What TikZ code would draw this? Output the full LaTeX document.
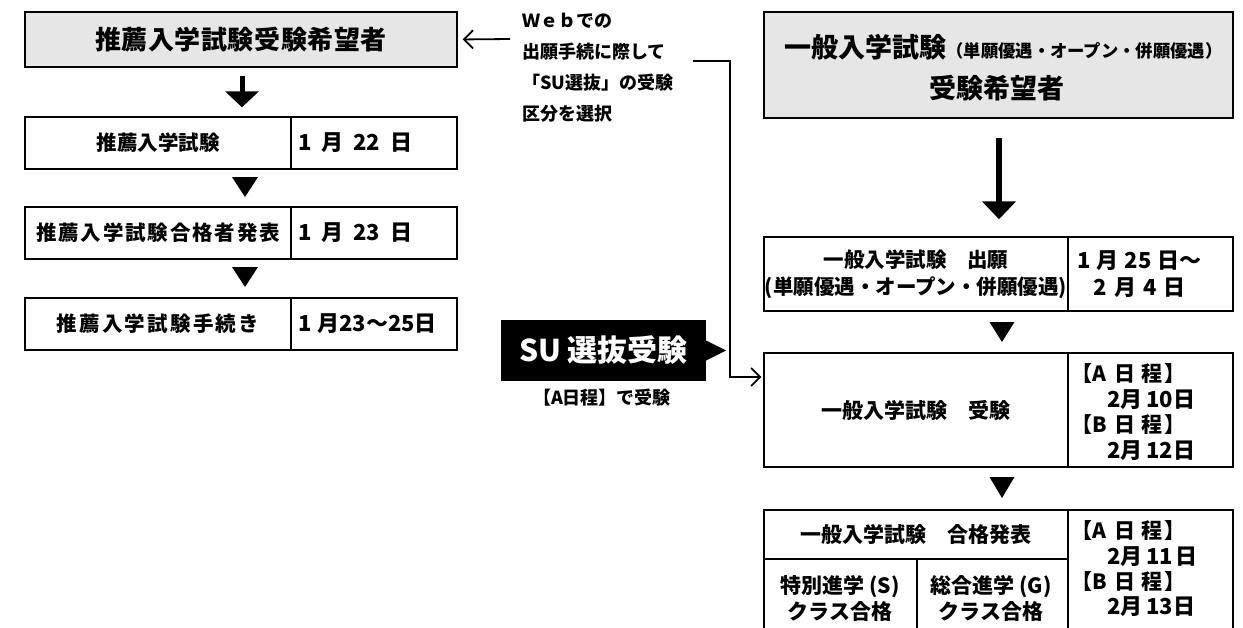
\documentclass[tikz,border=0pt]{standalone}
\usepackage{fontspec}
\setmainfont{Noto Sans CJK JP}
\usetikzlibrary{arrows.meta,calc}
\newcommand{\fs}[2]{\fontsize{#1}{#2}\selectfont}
\newcommand{\ls}[1]{\addfontfeature{LetterSpace=#1}}
\newcommand{\gp}[1]{\hspace{#1pt}}
\definecolor{boxgray}{RGB}{230,230,230}
\tikzset{
  box/.style={draw=black, line width=1.4pt, rectangle, inner sep=0pt, align=center, font=\bfseries\fs{20.5}{27}},
  graybox/.style={box, fill=boxgray},
  txt/.style={inner sep=0pt, font=\bfseries\fs{20.5}{27}},
  datebox/.style={box, font=\bfseries\fs{22}{27}, text width=152pt, align=left},
  datetxt/.style={txt, anchor=west, font=\bfseries\fs{21}{24}},
  thinarr/.style={line width=2pt, -{Straight Barb[length=9pt,width=18pt,line width=1.8pt]}},
  tri/.style={fill=black}
}
\begin{document}
\begin{tikzpicture}[x=1pt,y=-1pt]
\useasboundingbox (0,0) rectangle (1243,627);
\clip (0,0) rectangle (1243,627);

% ---------------- left column
\node[graybox, minimum width=432pt, minimum height=55pt, font=\bfseries\fs{26}{30}] (topL) at (241,39.5) {\ls{2}推薦入学試験受験希望者};
\node[box, minimum width=266pt, minimum height=52pt] (L1a) at (158,143) {推薦入学試験};
\node[datebox, minimum width=166pt, minimum height=52pt] (L1b) at (374,143) {1\gp{10}月\gp{10}22\gp{10}日};
\node[box, minimum width=266pt, minimum height=52pt] (L2a) at (158,233) {\ls{9}推薦入学試験合格者発表};
\node[datebox, minimum width=166pt, minimum height=52pt] (L2b) at (374,233) {1\gp{10}月\gp{10}23\gp{10}日};
\node[box, minimum width=266pt, minimum height=52pt] (L3a) at (158,324) {\ls{11}推薦入学試験手続き};
\node[datebox, minimum width=166pt, minimum height=52pt] (L3b) at (374,324) {1\gp{6}月23〜25日};

\draw[line width=5pt, -{Triangle[width=33pt,length=16pt]}] ($(topL.south)+(1,8)$) -- ($(L1a.north -| topL.south)+(1,-9)$);
\fill[tri] (232,177) -- (258,177) -- (245,197) -- cycle;
\fill[tri] (232,267) -- (258,267) -- (245,287) -- cycle;

% ---------------- middle
\node[txt, font=\bfseries\fs{18}{31}, align=left, anchor=west] (web) at (522,67.5) {Ｗｅｂでの\\出願手続に際して\\「SU選抜」の受験\\区分を選択};
\coordinate (wa) at (510,39);
\draw[thinarr, line width=1.8pt, shorten >=5pt] (wa) -- (topL.east);

\node[fill=black, minimum width=205pt, minimum height=61pt, inner sep=0pt, text=white, font=\bfseries\fs{30}{34}] (su) at (603.5,350.5) {SU 選抜受験};
\fill ($(su.east)+(0,-10)$) -- ($(su.east)+(20,0)$) -- ($(su.east)+(0,10)$) -- cycle;
\node[txt, font=\bfseries\fs{18}{20}] (suA) at (602,398) {【A日程】で受験};

% ---------------- right column
\node[graybox, minimum width=469pt, minimum height=106pt] (topR) at (998.5,65) {};
\node[txt, font=\bfseries\fs{27}{30}] (topR1) at (1003.5,47) {一般入学試験{\fs{17.3}{20}（単願優遇・オープン・併願優遇）}};
\node[txt, font=\bfseries\fs{27}{30}] (topR2) at (997,88) {受験希望者};

\node[box, minimum width=304pt, minimum height=74pt, font=\bfseries\fs{20.5}{27}] (R1a) at (916,274) {一般入学試験　出願\\(単願優遇・オープン・併願優遇)};
\node[box, minimum width=165pt, minimum height=74pt, font=\bfseries\fs{22}{27}] (R1b) at (1150.5,274) {1\gp{6}月\gp{6}25\gp{6}日〜\hspace*{22pt}\\2\gp{7}月\gp{7}4\gp{7}日\hspace*{22pt}};

\draw[line width=6pt, -{Triangle[width=33pt,length=18pt]}] ($(topR.south -| 999,0)+(0,19)$) -- ($(R1a.north -| 999,0)+(0,-17)$);
\fill[tri] (989.5,322) -- (1014.5,322) -- (1002,342) -- cycle;

\node[box, minimum width=304pt, minimum height=114pt, font=\bfseries\fs{21}{27}] (R2a) at (916,410) {一般入学試験　受験};
\node[box, minimum width=165pt, minimum height=114pt] (R2b) at (1150.5,410) {};
\node[datetxt] (R2t1) at (1071,374) {【A\gp{8}日\gp{6}程\gp{2}】};
\node[datetxt, font=\bfseries\fs{22}{24}] (R2t2) at (1107,400) {2月\gp{4}10日};
\node[datetxt] (R2t3) at (1071,425) {【B\gp{8}日\gp{6}程\gp{2}】};
\node[datetxt, font=\bfseries\fs{22}{24}] (R2t4) at (1107,451) {2月\gp{4}12日};

\coordinate (b1) at (693,61);
\coordinate (b2) at (730,61);
\coordinate (b3) at (730,377);
\draw[thinarr, shorten >=2pt] (b1) -- (b2) -- (b3) -- (b3 -| R2a.west);

\fill[tri] (989.5,477) -- (1014.5,477) -- (1002,498) -- cycle;

\node[box, minimum width=304pt, minimum height=49pt, font=\bfseries\fs{21}{27}] (R3a) at (916,534.5) {一般入学試験　合格発表};
\node[box, minimum width=153pt, minimum height=91pt] (R3b) at (840.5,604.5) {};
\node[box, minimum width=151pt, minimum height=91pt] (R3c) at (992.5,604.5) {};
\node[box, minimum width=165pt, minimum height=140pt] (R3d) at (1150.5,580) {};
\node[txt, align=center, font=\bfseries\fs{21}{26}] (R3bt) at (840,598) {特別進学 (S)\\クラス合格};
\node[txt, align=center, font=\bfseries\fs{21}{26}] (R3ct) at (991,598) {総合進学 (G)\\クラス合格};
\node[datetxt] (R3t1) at (1071,531) {【A\gp{8}日\gp{6}程\gp{2}】};
\node[datetxt, font=\bfseries\fs{22}{24}] (R3t2) at (1107,557) {2月\gp{4}11\gp{2}日};
\node[datetxt] (R3t3) at (1071,582) {【B\gp{8}日\gp{6}程\gp{2}】};
\node[datetxt, font=\bfseries\fs{22}{24}] (R3t4) at (1107,607) {2月\gp{4}13日};
\end{tikzpicture}
\end{document}
